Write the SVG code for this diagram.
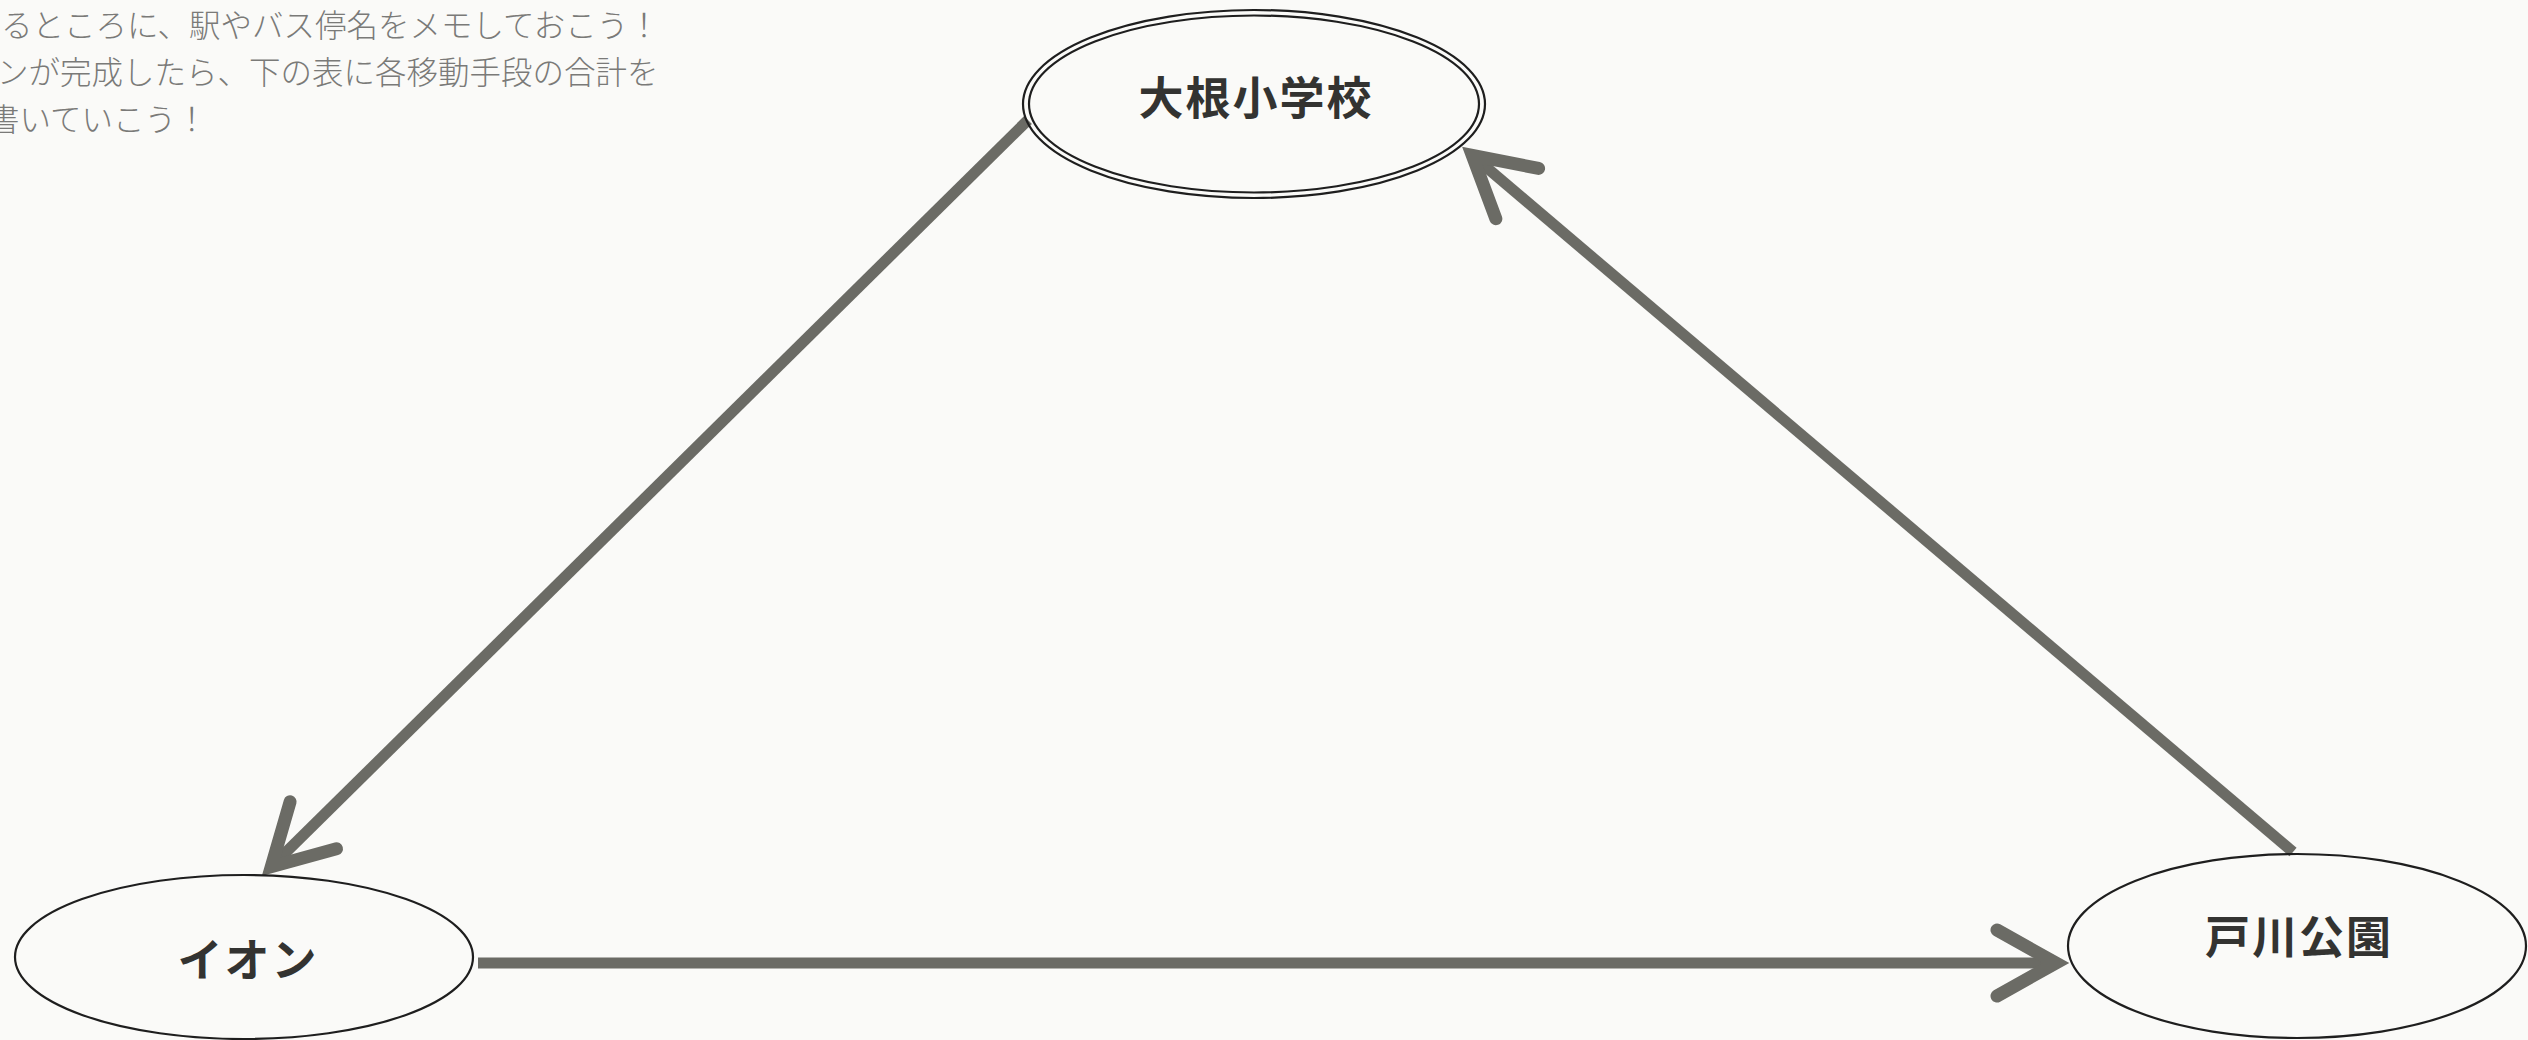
<svg xmlns="http://www.w3.org/2000/svg" width="2528" height="1040" viewBox="0 0 2528 1040">
  <style>
    .bg { fill: #fafaf8; }
    .node { fill: none; stroke: #1e1e1e; stroke-width: 2.2; }
    .label { font-family: "Noto Sans CJK JP", "Noto Sans", sans-serif; font-size: 45px; font-weight: 700; fill: #333331; text-anchor: middle; letter-spacing: 2px; }
    .note { font-family: "Noto Sans CJK JP", "Noto Sans", sans-serif; font-size: 31.5px; fill: #7a7a78; font-weight: 300; }
    .shaft { fill: none; stroke: #6b6b65; stroke-width: 11; stroke-linecap: butt; }
  </style>
  <defs>
    <marker id="ah" markerUnits="userSpaceOnUse" viewBox="-100 -60 130 120" markerWidth="130" markerHeight="120" refX="0" refY="0" orient="auto" overflow="visible">
      <path d="M-58,-33 L1,0 L-58,33" fill="none" stroke="#6b6b65" stroke-width="13" stroke-linecap="round" stroke-linejoin="miter" stroke-miterlimit="10"/>
    </marker>
  </defs>
  <rect class="bg" x="0" y="0" width="2528" height="1040"/>

  <g id="note">
    <text class="note" x="1" y="37">るところに、駅やバス停名をメモしておこう！</text>
    <text class="note" x="-3" y="84">ンが完成したら、下の表に各移動手段の合計を</text>
    <text class="note" x="-12" y="131">書いていこう！</text>
  </g>

  <g id="connectors">
    <line class="shaft" x1="1028" y1="120" x2="272" y2="866" marker-end="url(#ah)"/>
    <line class="shaft" x1="478" y1="963" x2="2055" y2="963" marker-end="url(#ah)"/>
    <line class="shaft" x1="2293" y1="852" x2="1473" y2="156" marker-end="url(#ah)"/>
  </g>

  <g id="node-oone">
    <ellipse class="node" cx="1254" cy="104" rx="231" ry="94"/>
    <ellipse class="node" cx="1254" cy="104" rx="225" ry="88.5"/>
    <text class="label" x="1256" y="115">大根小学校</text>
  </g>

  <g id="node-aeon">
    <ellipse class="node" cx="244" cy="957" rx="229" ry="82"/>
    <text class="label" x="248" y="977">イオン</text>
  </g>

  <g id="node-todagawa">
    <ellipse class="node" cx="2297" cy="946" rx="229" ry="92"/>
    <text class="label" x="2299" y="954">戸川公園</text>
  </g>
</svg>
